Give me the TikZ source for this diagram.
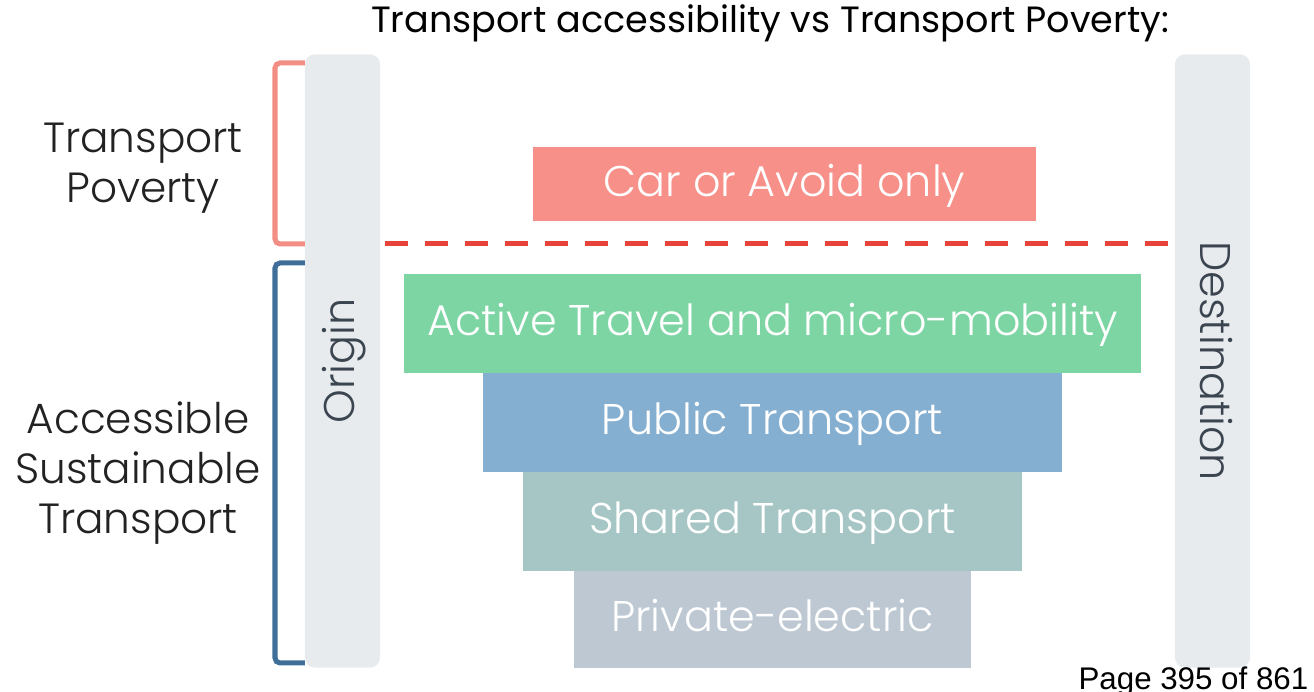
\documentclass[tikz,border=0pt]{standalone}
\usepackage{fontspec}
\setmainfont{Poppins}
\newfontfamily\lightfont{Poppins Light}
\newfontfamily\arialfont{Liberation Sans}
\usetikzlibrary{positioning}

\definecolor{barbg}{HTML}{E8EBEE}
\definecolor{bartext}{HTML}{3B4550}
\definecolor{carfill}{HTML}{F8908A}
\definecolor{activefill}{HTML}{7ED5A4}
\definecolor{publicfill}{HTML}{85AFD0}
\definecolor{sharedfill}{HTML}{A6C6C5}
\definecolor{privfill}{HTML}{BDC8D2}
\definecolor{povline}{HTML}{F28E84}
\definecolor{accline}{HTML}{3F6F98}
\definecolor{cutred}{HTML}{E8433B}
\definecolor{sidetext}{HTML}{222222}

\tikzset{
band/.style={inner sep=0pt,outer sep=0pt,text=white,font=\lightfont\fontsize{12.2}{14}\selectfont,text height=.7em,text depth=0pt},
endbar/.style={fill=barbg,rounded corners=0.1cm,inner sep=0pt,outer sep=0pt,minimum width=6.13cm,minimum height=0.75cm,
  text=bartext,font=\lightfont\fontsize{12.2}{14}\selectfont,text height=.7em,text depth=0pt},
sidelabel/.style={align=center,text=sidetext,font=\lightfont\fontsize{12}{14.2}\selectfont,inner sep=0pt},
povbrace/.style={draw=povline,line width=0.05cm,rounded corners=0.05cm},
accbrace/.style={draw=accline,line width=0.05cm,rounded corners=0.05cm},
cutline/.style={draw=cutred,line width=0.05cm,dash pattern=on 0.23cm off 0.17cm}
}

\begin{document}
\begin{tikzpicture}[x=0.01cm,y=-0.01cm]
\useasboundingbox (0,0) rectangle (1314,692);

% title
\node[anchor=base,font=\fontsize{10.4}{12}\selectfont] (title) at (770,33) {Transport accessibility vs Transport Poverty:};

% origin and destination bars
\node[endbar,rotate=90] (orig) at (342.5,361) {Origin};
\node[endbar,rotate=-90] (dest) at (1212.5,361) {Destination};

% transport options
\node[band,fill=carfill,minimum width=5.03cm,minimum height=0.74cm] (car) at (784.5,184) {Car or Avoid only};
\node[band,fill=activefill,minimum width=7.37cm,minimum height=0.99cm] (active) at (772.5,323.5) {Active Travel and micro-mobility};
\node[band,fill=publicfill,minimum width=5.79cm,minimum height=0.99cm,below=0pt of active.south] (public) {Public Transport};
\node[band,fill=sharedfill,minimum width=4.98cm,minimum height=0.99cm,below=0pt of public.south] (shared) {Shared Transport};
\node[band,fill=privfill,minimum width=3.96cm,minimum height=0.97cm,below=0pt of shared.south] (priv) {Private-electric};

% poverty line
\draw[cutline] (385,244) -- (1168,244);

% brackets
\draw[povbrace] (orig.north |- 0,63) -| (275,244) -- (orig.north |- 0,244);
\draw[accbrace] (orig.north |- 0,263) -| (275,663) -- (orig.north |- 0,663);
\node[sidelabel] (povlabel) at (143,168) {Transport\\Poverty};
\node[sidelabel] (acclabel) at (138,473) {Accessible\\Sustainable\\Transport};

% page number
\node[anchor=base east,inner sep=0pt,font=\arialfont\fontsize{8.9}{10}\selectfont] (page) at (1309,690) {Page 395 of 861};
\end{tikzpicture}
\end{document}
